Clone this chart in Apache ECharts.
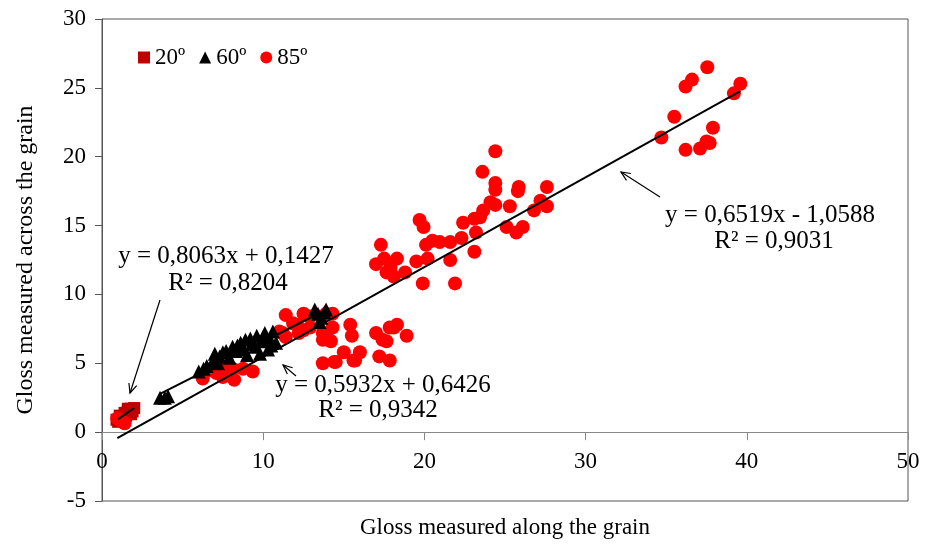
<!DOCTYPE html>
<html>
<head>
<meta charset="utf-8">
<title>Gloss</title>
<script src="https://cdn.jsdelivr.net/npm/echarts/dist/echarts.min.js"></script>
<style>
  html, body { margin: 0; padding: 0; background: #fff; }
  #chart { width: 931px; height: 544px; }
</style>
</head>
<body>
<div id="chart"></div>
<script>
// data: [along the grain, across the grain]
var gloss20 = [
  [0.9, 0.9], [1.0, 0.75], [1.1, 1.2], [1.3, 1.0], [1.4, 1.4], [1.5, 1.2],
  [1.6, 1.5], [1.6, 1.7], [1.8, 1.3], [1.8, 1.7], [1.9, 1.5], [2.0, 1.75]
];
var gloss60 = [
  [3.6, 2.5], [3.9, 2.5], [4.1, 2.6], [6.0, 4.4], [6.3, 4.6], [6.5, 4.8],
  [6.9, 5.2], [7.0, 5.7], [7.2, 5.0], [7.3, 5.5], [7.5, 5.8], [7.7, 5.9],
  [7.9, 5.4], [8.1, 6.2], [8.3, 5.9], [8.4, 6.3], [8.6, 6.5], [8.8, 6.0],
  [8.9, 6.7], [9.0, 5.6], [9.2, 6.8], [9.3, 6.4], [9.5, 6.2], [9.6, 7.0],
  [9.8, 5.7], [9.9, 6.6], [10.0, 6.9], [10.1, 7.2], [10.3, 6.0], [10.4, 6.8],
  [10.5, 6.3], [10.6, 7.3], [10.8, 6.5],
  [13.2, 8.9], [13.4, 8.6], [13.6, 8.3], [13.8, 8.7], [13.5, 8.0], [13.9, 8.9]
];
var gloss85 = [
  [0.95, 1.0], [1.2, 0.8], [1.4, 0.65],
  [6.25, 3.9], [6.7, 4.5], [7.1, 4.3], [7.5, 4.0], [7.7, 4.7], [8.1, 4.6],
  [8.2, 3.8], [8.75, 4.6], [9.35, 4.4],
  [11.0, 7.3], [11.2, 7.2], [11.4, 8.5], [11.4, 6.9], [11.85, 7.9], [12.1, 7.8],
  [12.2, 7.2], [12.5, 8.6], [12.5, 7.4], [12.9, 8.4], [12.9, 7.6], [13.7, 7.2],
  [13.7, 6.7], [14.1, 6.7], [14.3, 8.6], [14.3, 7.6], [13.9, 8.6], [15.4, 7.8],
  [15.5, 7.0], [14.2, 6.6], [17.0, 7.2], [17.4, 6.7], [17.65, 6.6], [17.85, 7.6],
  [18.1, 7.6], [18.3, 7.8], [18.9, 7.0],
  [15.0, 5.8], [16.0, 5.8], [15.7, 5.2], [17.2, 5.5], [17.85, 5.2], [14.4, 5.1],
  [13.7, 5.0], [14.5, 5.1], [15.6, 5.2],
  [17.3, 13.6], [17.0, 12.2], [17.5, 12.6], [18.3, 12.6], [17.9, 12.0], [17.65, 11.6],
  [18.1, 11.3], [18.8, 11.6], [19.5, 12.4], [19.7, 15.4], [19.95, 14.9], [20.1, 13.6],
  [20.2, 12.6], [20.5, 13.9], [20.95, 13.8], [21.6, 13.8], [21.6, 12.5], [19.9, 10.8],
  [21.9, 10.8], [22.3, 14.1], [22.4, 15.2], [23.1, 15.5], [23.45, 15.6], [23.65, 16.1],
  [23.2, 14.5], [23.1, 13.1], [24.1, 16.7], [24.4, 16.5], [25.3, 16.4], [25.1, 14.9],
  [25.7, 14.5], [26.1, 14.9], [26.8, 16.1], [27.2, 16.8], [27.6, 16.4], [27.6, 17.8],
  [25.85, 17.8], [25.8, 17.5], [24.4, 18.1], [24.4, 17.6], [23.6, 18.9], [24.4, 20.4],
  [34.7, 21.4], [35.5, 22.9], [36.2, 20.5], [36.2, 25.1], [36.6, 25.6], [37.1, 20.6],
  [37.5, 21.1], [37.7, 21.0], [37.9, 22.1], [37.55, 26.5], [39.2, 24.6], [39.6, 25.3]
];

// linear trendlines: [slope, intercept, xStart, xEnd]
var fit20 = [0.8063, 0.1427, 1.0, 2.0];
var fit60 = [0.5932, 0.6426, 3.6, 13.9];
var fit85 = [0.6519, -1.0588, 0.95, 39.6];

var legendNames = ['20º', '60º', '85º'];
var xTicks = [0, 50, 10];
var yTicks = [-5, 30, 5];

var FONT = '"Liberation Serif", "Times New Roman", serif';
var GRID_TOP = 19, GRID_H = 482;
// the x axis sits on y = 0, lifted from the bottom of the plot
var zeroLift = GRID_H * (0 - yTicks[0]) / (yTicks[1] - yTicks[0]);

function fitLine(f) {
  return [[f[2], f[0] * f[2] + f[1]], [f[3], f[0] * f[3] + f[1]]];
}

function trend(f) {
  return {
    type: 'line',
    data: fitLine(f),
    symbol: 'none',
    silent: true,
    z: 10,
    lineStyle: { color: '#000', width: 2 }
  };
}

// arrow from tail (x1,y1) to head (x2,y2), pixel layout
function arrow(x1, y1, x2, y2) {
  var a = Math.atan2(y2 - y1, x2 - x1), L = 10, w = 0.42;
  var p1 = [x2 - L * Math.cos(a - w), y2 - L * Math.sin(a - w)];
  var p2 = [x2 - L * Math.cos(a + w), y2 - L * Math.sin(a + w)];
  return [
    { type: 'line', z: 100, shape: { x1: x1, y1: y1, x2: x2, y2: y2 },
      style: { stroke: '#000', lineWidth: 1.2 } },
    { type: 'polyline', z: 100, shape: { points: [p1, [x2, y2], p2] },
      style: { stroke: '#000', lineWidth: 1.2, fill: null } }
  ];
}

function label(x, y, text) {
  return { type: 'text', x: x, y: y, z: 100,
    style: { text: text, font: '25px ' + FONT, fill: '#000', align: 'center', verticalAlign: 'middle' } };
}

var graphics = [].concat(
  arrow(160, 300, 130, 393),
  arrow(296, 376, 283, 365),
  arrow(660, 197, 621, 172),
  [
    label(226, 256, 'y = 0,8063x + 0,1427'),
    label(228, 283, 'R² = 0,8204'),
    label(383, 385, 'y = 0,5932x + 0,6426'),
    label(378, 410, 'R² = 0,9342'),
    label(770, 215, 'y = 0,6519x - 1,0588'),
    label(774, 241, 'R² = 0,9031')
  ]
);

var myChart = echarts.init(document.getElementById('chart'));
var option = {
  backgroundColor: '#fff',
  animation: false,
  textStyle: { fontFamily: FONT },
  grid: {
    left: 102, top: GRID_TOP, width: 806, height: GRID_H,
    show: true, borderColor: '#555', borderWidth: 1,
    containLabel: false, outerBoundsMode: 'none'
  },
  legend: {
    data: legendNames,
    left: 133, top: 41,
    itemWidth: 12, itemHeight: 12, itemGap: 14,
    textStyle: { fontFamily: FONT, fontSize: 23, color: '#000' }
  },
  xAxis: {
    type: 'value',
    min: xTicks[0], max: xTicks[1], interval: xTicks[2],
    offset: -zeroLift,
    name: 'Gloss measured along the grain',
    nameLocation: 'middle', nameGap: 84,
    nameTextStyle: { fontFamily: FONT, fontSize: 23, color: '#000' },
    axisLine: { onZero: false, lineStyle: { color: '#888', width: 1 } },
    axisTick: { show: true, inside: false, length: 8, lineStyle: { color: '#888' } },
    axisLabel: { margin: 18, fontFamily: FONT, fontSize: 23, color: '#000' },
    splitLine: { show: false }
  },
  yAxis: {
    type: 'value',
    min: yTicks[0], max: yTicks[1], interval: yTicks[2],
    name: 'Gloss measured across the grain',
    nameLocation: 'middle', nameGap: 64,
    nameTextStyle: { fontFamily: FONT, fontSize: 24, color: '#000' },
    axisLine: { show: true, onZero: false, lineStyle: { color: '#555', width: 1 } },
    axisTick: { show: true, inside: false, length: 7, lineStyle: { color: '#555' } },
    axisLabel: { margin: 16, fontFamily: FONT, fontSize: 23, color: '#000' },
    splitLine: { show: false }
  },
  series: [
    {
      name: legendNames[0], type: 'scatter', symbol: 'rect', symbolSize: 12,
      itemStyle: { color: '#C00000', opacity: 1 }, data: gloss20, z: 3
    },
    {
      name: legendNames[2], type: 'scatter', symbol: 'circle', symbolSize: 14,
      itemStyle: { color: '#FF0000', opacity: 1 }, data: gloss85, z: 4
    },
    {
      name: legendNames[1], type: 'scatter', symbol: 'triangle', symbolSize: 14,
      itemStyle: { color: '#000', opacity: 1 }, data: gloss60, z: 5
    },
    trend(fit20),
    trend(fit60),
    trend(fit85)
  ],
  graphic: graphics
};
myChart.setOption(option);
</script>
</body>
</html>
